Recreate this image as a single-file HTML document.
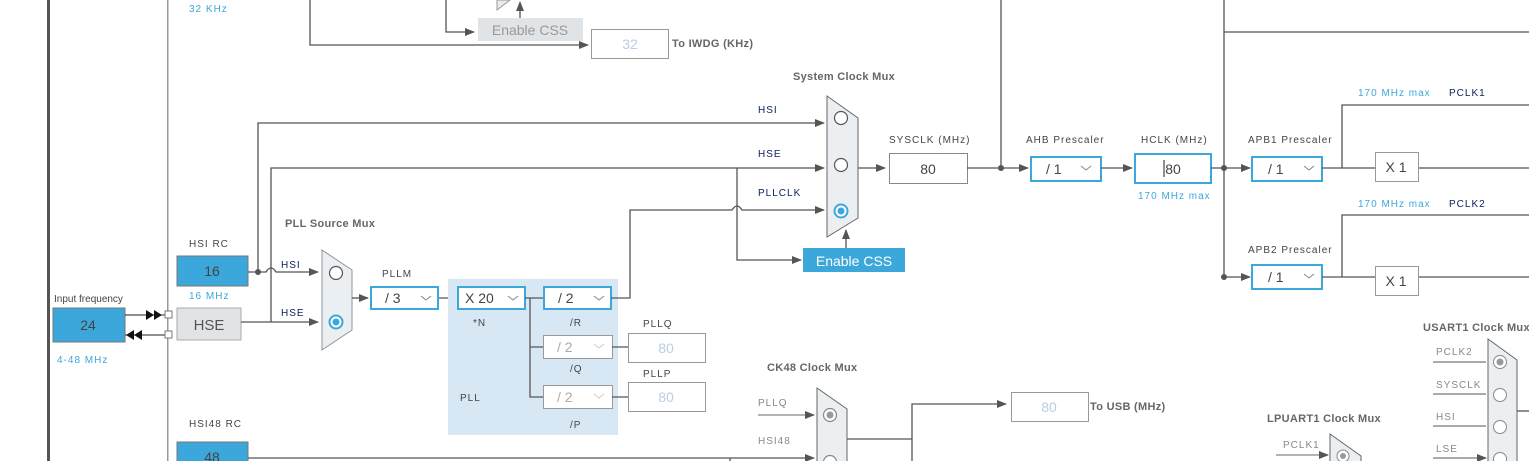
<!DOCTYPE html>
<html><head><meta charset="utf-8"><style>
html,body{margin:0;padding:0;background:#fff;}
svg{display:block;font-family:"Liberation Sans",sans-serif;}
.l{font-size:10px;fill:#444;letter-spacing:1px}
.b{font-size:11px;fill:#666;font-weight:bold;letter-spacing:0.3px}
.bl{font-size:10px;fill:#3ba7db;letter-spacing:1px}
.nv{font-size:10px;fill:#0a1e5a;letter-spacing:1px}
.g{font-size:10px;fill:#888;letter-spacing:1px}
.ln{stroke:#555;stroke-width:1.3;fill:none}
.sel{fill:#fff;stroke:#3ba7db;stroke-width:2}
.v{font-size:14px;fill:#444}
.f{font-size:14px;fill:#b8cfe6}
</style></head><body>
<svg width="1529" height="461" viewBox="0 0 1529 461">
<defs>
<marker id="a" markerWidth="10" markerHeight="8" refX="9" refY="4" orient="auto" markerUnits="userSpaceOnUse"><path d="M0,0 L10,4 L0,8z" fill="#555"/></marker>
</defs>
<rect x="47" y="0" width="3" height="461" fill="#555"/>
<rect x="167" y="0" width="1.5" height="461" fill="#999"/>

<!-- top -->
<text x="189" y="12" class="bl">32 KHz</text>
<path class="ln" d="M310,0 V45 H588" marker-end="url(#a)"/>
<path class="ln" d="M446,0 V32 H474" marker-end="url(#a)"/>
<path d="M497,10 L510,0 L497,0z" fill="#e9ecef" stroke="#999"/>
<path class="ln" d="M520,18 V2" marker-end="url(#a)"/>
<rect x="478" y="18" width="105" height="23" fill="#e1e4e6"/>
<text x="530" y="35" text-anchor="middle" style="font-size:14px;fill:#999">Enable CSS</text>
<rect x="591.5" y="29.5" width="77" height="29" fill="#fff" stroke="#999"/>
<text x="630" y="49" text-anchor="middle" class="f">32</text>
<text x="672" y="47" class="b">To IWDG (KHz)</text>
<path class="ln" d="M1001,0 V168"/>
<path class="ln" d="M1224,0 V277 M1224,32 H1529"/>

<!-- HSI RC -->
<text x="189" y="247" class="l">HSI RC</text>
<rect x="177" y="256" width="71" height="30" fill="#3ba7db" stroke="#777"/>
<text x="212" y="276" text-anchor="middle" class="v">16</text>
<text x="189" y="299" class="bl">16 MHz</text>
<path class="ln" d="M248,272 H266 Q271,264 276,272 H318" marker-end="url(#a)"/>
<circle cx="258" cy="272" r="3" fill="#555"/>
<text x="281" y="268" class="nv">HSI</text>
<path class="ln" d="M258,272 V123 H824" marker-end="url(#a)"/>
<path class="ln" d="M271,322 V168 H824" marker-end="url(#a)"/>
<text x="758" y="113" class="nv">HSI</text>
<text x="758" y="157" class="nv">HSE</text>
<text x="758" y="196" class="nv">PLLCLK</text>

<!-- input -->
<text x="54" y="302" style="font-size:10px;fill:#444">Input frequency</text>
<rect x="53" y="308" width="72" height="34" fill="#3ba7db" stroke="#777"/>
<text x="88" y="330" text-anchor="middle" class="v">24</text>
<text x="57" y="363" class="bl">4-48 MHz</text>
<path d="M125,315 H165 M125,335 H165" stroke="#222" stroke-width="1"/>
<path d="M146,310 L154,315 L146,320z M154,310 L162,315 L154,320z M126,335 L134,330 L134,340z M134,335 L142,330 L142,340z" fill="#111"/>
<rect x="165" y="311" width="7" height="7" fill="#fff" stroke="#777"/>
<rect x="165" y="331" width="7" height="7" fill="#fff" stroke="#777"/>
<rect x="177" y="308" width="64" height="32" fill="#e1e4e6" stroke="#aaa"/>
<text x="209" y="330" text-anchor="middle" style="font-size:15px;fill:#555">HSE</text>
<path class="ln" d="M241,322 H318" marker-end="url(#a)"/>
<text x="281" y="316" class="nv">HSE</text>

<!-- PLL source mux -->
<text x="285" y="227" class="b">PLL Source Mux</text>
<path d="M322,250 L352,270 L352,330 L322,350z" fill="#eceff2" stroke="#8a96a0"/>
<circle cx="336" cy="273" r="6.5" fill="#fff" stroke="#555" stroke-width="1.2"/>
<circle cx="336" cy="322" r="6.5" class="sel"/><circle cx="336" cy="322" r="3.5" fill="#3ba7db"/>
<path class="ln" d="M352,298 H368" marker-end="url(#a)"/>
<text x="382" y="277" class="l">PLLM</text>
<path class="ln" d="M438,298 H457"/>

<rect x="448" y="279" width="170" height="156" fill="#d8e7f4"/>
<rect x="371" y="287" width="67" height="22" fill="#fff" stroke="#3ba7db" stroke-width="2"/>
<text x="385" y="303" class="v">/ 3</text><path d="M421,296 l5,4 l5,-4" stroke="#888" fill="none"/>
<rect x="458" y="287" width="67" height="22" fill="#fff" stroke="#3ba7db" stroke-width="2"/>
<text x="465" y="303" class="v">X 20</text><path d="M508,296 l5,4 l5,-4" stroke="#888" fill="none"/>
<text x="473" y="326" class="l">*N</text>
<rect x="544" y="287" width="67" height="22" fill="#fff" stroke="#3ba7db" stroke-width="2"/>
<text x="558" y="303" class="v">/ 2</text><path d="M594,296 l5,4 l5,-4" stroke="#888" fill="none"/>
<text x="570" y="326" class="l">/R</text>
<path class="ln" d="M525,298 H543 M530,298 V397 H543 M530,347 H543"/>
<rect x="543.5" y="335.5" width="69" height="23" fill="#fff" stroke="#999"/>
<text x="557" y="352" class="v" style="fill:#aaa">/ 2</text><path d="M594,344 l5,4 l5,-4" stroke="#ccc" fill="none"/>
<text x="570" y="372" class="l">/Q</text>
<rect x="543.5" y="385.5" width="69" height="23" fill="#fff" stroke="#999"/>
<text x="557" y="402" class="v" style="fill:#aaa">/ 2</text><path d="M594,394 l5,4 l5,-4" stroke="#ccc" fill="none"/>
<text x="570" y="428" class="l">/P</text>
<text x="460" y="401" class="l">PLL</text>
<path class="ln" d="M612,347 H628 M612,397 H628"/>
<text x="643" y="327" class="l">PLLQ</text>
<rect x="628.5" y="333.5" width="77" height="29" fill="#fff" stroke="#999"/>
<text x="666" y="353" text-anchor="middle" class="f">80</text>
<text x="643" y="377" class="l">PLLP</text>
<rect x="628.5" y="382.5" width="77" height="29" fill="#fff" stroke="#999"/>
<text x="666" y="402" text-anchor="middle" class="f">80</text>
<path class="ln" d="M611,298 H630 V210 H732 Q737,202 742,210 H824" marker-end="url(#a)"/>
<path class="ln" d="M737,168 V260 H801" marker-end="url(#a)"/>

<!-- system mux -->
<text x="793" y="80" class="b">System Clock Mux</text>
<path d="M827,96 L858,118 L858,218 L827,237z" fill="#eceff2" stroke="#666"/>
<circle cx="841" cy="118" r="6.5" fill="#fff" stroke="#555" stroke-width="1.2"/>
<circle cx="841" cy="165" r="6.5" fill="#fff" stroke="#555" stroke-width="1.2"/>
<circle cx="841" cy="211" r="6.5" class="sel"/><circle cx="841" cy="211" r="3.5" fill="#3ba7db"/>
<rect x="803" y="248" width="102" height="24" fill="#3ba7db"/>
<text x="854" y="266" text-anchor="middle" style="font-size:14px;fill:#fff">Enable CSS</text>
<path class="ln" d="M846,248 V230" marker-end="url(#a)"/>
<path class="ln" d="M858,168 H885" marker-end="url(#a)"/>
<text x="889" y="143" class="l">SYSCLK (MHz)</text>
<rect x="889.5" y="153.5" width="78" height="30" fill="#fff" stroke="#888"/>
<text x="928" y="174" text-anchor="middle" class="v">80</text>
<path class="ln" d="M967,168 H1028" marker-end="url(#a)"/>
<circle cx="1001" cy="168" r="3" fill="#555"/>
<text x="1026" y="143" class="l">AHB Prescaler</text>
<rect x="1031" y="157" width="70" height="24" fill="#fff" stroke="#3ba7db" stroke-width="2"/>
<text x="1046" y="174" class="v">/ 1</text><path d="M1081,166 l5,4 l5,-4" stroke="#888" fill="none"/>
<path class="ln" d="M1101,168 H1132" marker-end="url(#a)"/>
<text x="1141" y="143" class="l">HCLK (MHz)</text>
<rect x="1135" y="154" width="76" height="29" fill="#fff" stroke="#3ba7db" stroke-width="2"/>
<text x="1173" y="174" text-anchor="middle" class="v">80</text>
<path d="M1164,160 V177" stroke="#222"/>
<text x="1138" y="199" class="bl">170 MHz max</text>
<path class="ln" d="M1211,168 H1250" marker-end="url(#a)"/>
<circle cx="1224" cy="168" r="3" fill="#555"/>
<circle cx="1224" cy="277" r="3" fill="#555"/>
<path class="ln" d="M1224,277 H1250" marker-end="url(#a)"/>

<!-- APB -->
<text x="1248" y="143" class="l">APB1 Prescaler</text>
<rect x="1252" y="157" width="70" height="24" fill="#fff" stroke="#3ba7db" stroke-width="2"/>
<text x="1268" y="174" class="v">/ 1</text><path d="M1304,166 l5,4 l5,-4" stroke="#888" fill="none"/>
<path class="ln" d="M1322,168 H1375 M1342,168 V105 H1529 M1418,168 H1529"/>
<rect x="1375.5" y="152.5" width="43" height="29" fill="#fff" stroke="#999"/>
<text x="1396" y="172" text-anchor="middle" class="v">X 1</text>
<text x="1358" y="96" class="bl">170 MHz max</text><text x="1449" y="96" class="nv">PCLK1</text>
<text x="1248" y="253" class="l">APB2 Prescaler</text>
<rect x="1252" y="265" width="70" height="24" fill="#fff" stroke="#3ba7db" stroke-width="2"/>
<text x="1268" y="282" class="v">/ 1</text><path d="M1304,274 l5,4 l5,-4" stroke="#888" fill="none"/>
<path class="ln" d="M1322,277 H1375 M1342,277 V215 H1529 M1418,277 H1529"/>
<rect x="1375.5" y="266.5" width="43" height="29" fill="#fff" stroke="#999"/>
<text x="1396" y="286" text-anchor="middle" class="v">X 1</text>
<text x="1358" y="207" class="bl">170 MHz max</text><text x="1449" y="207" class="nv">PCLK2</text>

<!-- HSI48 -->
<text x="189" y="427" class="l">HSI48 RC</text>
<rect x="177" y="442" width="71" height="30" fill="#3ba7db" stroke="#777"/>
<text x="212" y="462" text-anchor="middle" class="v">48</text>
<path class="ln" d="M248,458 H814" marker-end="url(#a)"/>
<path class="ln" d="M730,458 V461"/>

<!-- CK48 -->
<text x="767" y="371" class="b">CK48 Clock Mux</text>
<path d="M817,388 L847,409 L847,470 L817,470z" fill="#eceff2" stroke="#666"/>
<circle cx="830" cy="415" r="6.5" fill="#fff" stroke="#888" stroke-width="1.2"/><circle cx="830" cy="415" r="3.5" fill="#999"/>
<circle cx="830" cy="462" r="6.5" fill="#fff" stroke="#888" stroke-width="1.2"/>
<text x="758" y="406" class="g">PLLQ</text>
<text x="758" y="444" class="g">HSI48</text>
<path d="M758,415 H814" stroke="#888" stroke-width="1.3" marker-end="url(#a)"/>
<path class="ln" d="M847,439 H912 M912,461 V404 H1006" marker-end="url(#a)"/>
<rect x="1011.5" y="392.5" width="77" height="29" fill="#fff" stroke="#999"/>
<text x="1049" y="412" text-anchor="middle" class="f">80</text>
<text x="1090" y="410" class="b">To USB (MHz)</text>

<!-- LPUART / USART -->
<text x="1267" y="422" class="b">LPUART1 Clock Mux</text>
<path d="M1330,434 L1361,456 L1361,470 L1330,470z" fill="#eceff2" stroke="#666"/>
<circle cx="1343" cy="456" r="6" fill="#fff" stroke="#888"/><circle cx="1343" cy="456" r="3" fill="#999"/>
<text x="1283" y="448" class="g">PCLK1</text>
<path d="M1276,455 H1328" stroke="#888" stroke-width="1.3" marker-end="url(#a)"/>
<text x="1423" y="331" class="b">USART1 Clock Mux</text>
<path d="M1488,339 L1517,360 L1517,470 L1488,470z" fill="#eceff2" stroke="#666"/>
<circle cx="1500" cy="362" r="6.5" fill="#fff" stroke="#888"/><circle cx="1500" cy="362" r="3.5" fill="#999"/>
<circle cx="1500" cy="395" r="6.5" fill="#fff" stroke="#888"/>
<circle cx="1500" cy="427" r="6.5" fill="#fff" stroke="#888"/>
<circle cx="1500" cy="459" r="6.5" fill="#fff" stroke="#888"/>
<text x="1436" y="355" class="g">PCLK2</text>
<text x="1436" y="388" class="g">SYSCLK</text>
<text x="1436" y="420" class="g">HSI</text>
<text x="1436" y="452" class="g">LSE</text>
<path d="M1433,362 H1486 M1433,394 H1486 M1433,426 H1486 M1433,458 H1486" stroke="#777" stroke-width="1.3" marker-end="url(#a)"/>
<path class="ln" d="M1517,411 H1529"/>
</svg>
</body></html>
